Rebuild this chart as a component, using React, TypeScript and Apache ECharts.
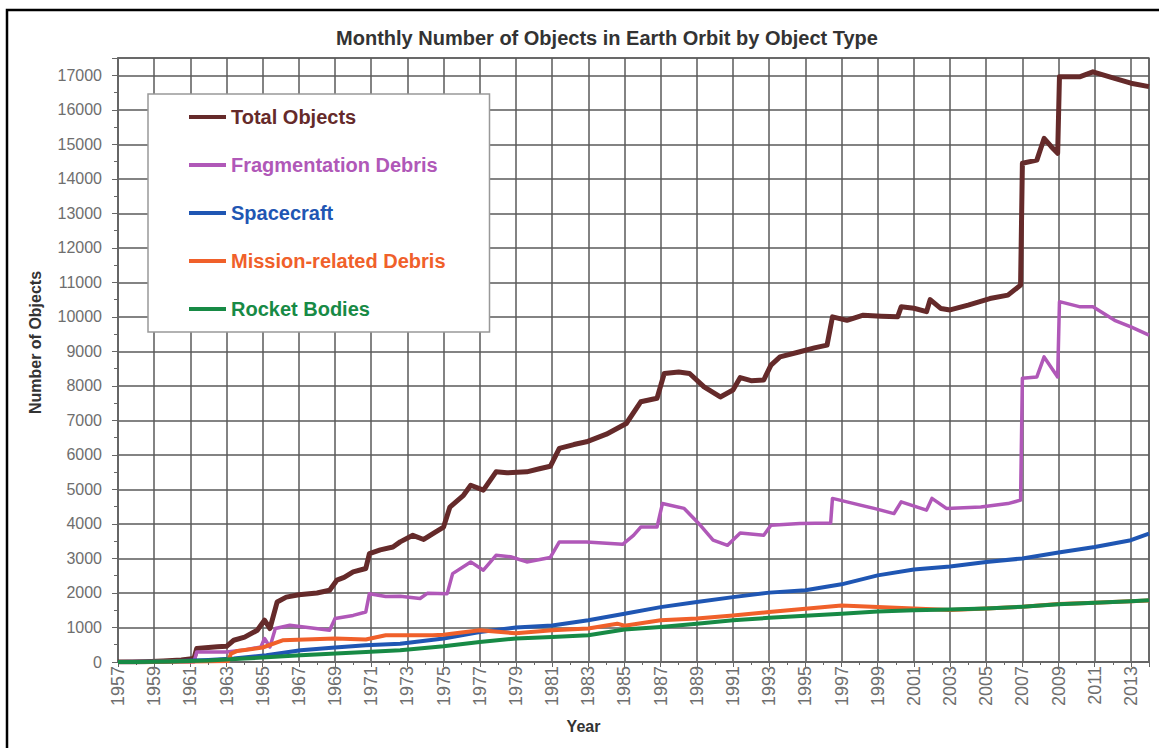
import React, { useEffect, useRef } from "react";
import * as echarts from "echarts";

const START_YEAR = 1957;
const END_YEAR = 2014;

const titleText = "Monthly Number of Objects in Earth Orbit by Object Type";
const xAxisName = "Year";
const yAxisName = "Number of Objects";

const seriesNames = [
  "Total Objects",
  "Fragmentation Debris",
  "Spacecraft",
  "Mission-related Debris",
  "Rocket Bodies",
];

const totalYears = [
  1957.0, 1957.8, 1958.5, 1959.5, 1960.5, 1961.2, 1961.35, 1962.0, 1962.5, 1963.0,
  1963.4, 1964.0, 1964.7, 1965.1, 1965.4, 1965.8, 1966.3, 1967.0, 1968.0, 1968.7,
  1969.1, 1969.5, 1970.0, 1970.7, 1970.9, 1971.5, 1972.2, 1972.6, 1973.3, 1973.9,
  1974.5, 1975.0, 1975.35, 1976.1, 1976.5, 1977.2, 1977.9, 1978.5, 1979.6, 1980.3,
  1980.9, 1981.4, 1982.2, 1982.9, 1984.0, 1985.1, 1985.9, 1986.8, 1987.2, 1988.0,
  1988.6, 1989.4, 1990.3, 1991.0, 1991.4, 1992.0, 1992.7, 1993.1, 1993.6, 1994.7,
  1995.5, 1996.2, 1996.5, 1997.3, 1998.2, 1999.2, 2000.1, 2000.3, 2001.0, 2001.7,
  2001.9, 2002.5, 2003.0, 2004.0, 2005.2, 2006.2, 2006.9, 2007.0, 2007.8, 2008.2,
  2008.6, 2008.95, 2009.05, 2010.2, 2010.9, 2012.1, 2013.0, 2014.0,
];
const totalValues = [
  0, 2, 10, 30, 60, 100, 390, 420, 440, 455,
  630, 720, 920, 1210, 970, 1740, 1880, 1950, 2000, 2080,
  2370, 2450, 2610, 2710, 3140, 3250, 3330, 3480, 3670, 3550,
  3750, 3910, 4490, 4830, 5120, 4980, 5510, 5480, 5510, 5600,
  5670, 6190, 6300, 6380, 6600, 6910, 7540, 7640, 8360, 8400,
  8360, 7970, 7680, 7880, 8240, 8150, 8170, 8600, 8840, 8990,
  9100, 9180, 10000, 9900, 10050, 10020, 10000, 10290, 10250, 10150,
  10500, 10240, 10200, 10340, 10530, 10630, 10920, 14450, 14540, 15170,
  14930, 14740, 16960, 16960, 17100, 16910, 16770, 16670,
];

const fragYears = [
  1957.0, 1961.2, 1961.35, 1963.0, 1964.0, 1964.9, 1965.1, 1965.4, 1965.7, 1966.5,
  1967.5, 1968.7, 1969.0, 1970.0, 1970.7, 1970.9, 1971.8, 1972.6, 1973.7, 1974.1,
  1975.2, 1975.5, 1976.5, 1977.2, 1977.9, 1978.7, 1979.6, 1980.9, 1981.4, 1982.9,
  1984.9, 1985.5, 1985.9, 1986.8, 1987.1, 1988.3, 1989.2, 1989.9, 1990.7, 1991.4,
  1992.7, 1993.1, 1994.7, 1996.4, 1996.5, 1997.3, 1998.8, 1999.9, 2000.3, 2001.7,
  2002.0, 2002.8, 2004.7, 2006.2, 2006.9, 2007.0, 2007.8, 2008.2, 2008.95, 2009.05,
  2010.2, 2010.9, 2012.1, 2013.0, 2014.0,
];
const fragValues = [
  0, 0, 290, 290, 350, 435, 680, 435, 970, 1065,
  1000, 920, 1260, 1350, 1450, 1980, 1900, 1905, 1840, 1990,
  1980, 2560, 2900, 2660, 3090, 3050, 2900, 3030, 3480, 3480,
  3410, 3670, 3910, 3910, 4590, 4450, 3960, 3530, 3380, 3740,
  3670, 3960, 4010, 4030, 4740, 4640, 4450, 4300, 4640, 4400,
  4740, 4450, 4490, 4590, 4690, 8220, 8260, 8840, 8260, 10440,
  10290, 10290, 9900, 9710, 9470,
];

const spacecraftYears = [
  1957, 1958, 1960, 1962, 1963.4, 1965.2, 1967.1, 1969, 1970.7, 1972.6,
  1975, 1977, 1979, 1981, 1983, 1985, 1987, 1989, 1991, 1993,
  1995, 1997, 1999, 2001, 2003, 2005, 2007, 2009, 2011, 2013, 2014,
];
const spacecraftValues = [
  0, 5, 20, 60, 100, 195, 340, 420, 485, 530,
  680, 870, 1000, 1060, 1210, 1400, 1590, 1740, 1880, 2010,
  2080, 2250, 2510, 2680, 2770, 2900, 3000, 3170, 3330, 3530, 3720,
];

const missionYears = [
  1957, 1959, 1961, 1963.1, 1963.25, 1963.6, 1965, 1966.1, 1969, 1970.7,
  1971.8, 1974.4, 1975, 1977, 1979, 1981, 1983, 1984.6, 1985, 1987,
  1989, 1991, 1993, 1995, 1997, 1999, 2001, 2003, 2005, 2007,
  2009, 2011, 2013, 2014,
];
const missionValues = [
  0, 5, 15, 30, 245, 320, 420, 630, 680, 650,
  775, 775, 790, 920, 830, 920, 970, 1110, 1050, 1210,
  1260, 1350, 1450, 1540, 1640, 1590, 1550, 1510, 1550, 1600,
  1680, 1720, 1760, 1780,
];

const rocketYears = [
  1957, 1958, 1960, 1962, 1964, 1967.1, 1970.7, 1972.6, 1975, 1977,
  1979, 1981, 1983, 1985, 1987, 1989, 1991, 1993, 1995, 1997,
  1999, 2001, 2003, 2005, 2007, 2009, 2011, 2013, 2014,
];
const rocketValues = [
  0, 3, 15, 40, 100, 195, 290, 340, 455, 580,
  680, 725, 775, 940, 1015, 1110, 1210, 1280, 1340, 1400,
  1460, 1500, 1520, 1550, 1600, 1670, 1720, 1760, 1790,
];

const seriesColors = ["#652a2a", "#b058b8", "#1f56b3", "#f0602a", "#178a45"];
const seriesWidths = [5, 3.5, 4, 4, 4];

const toPairs = (years: number[], values: number[]) =>
  years.map((y, i) => [y - START_YEAR, values[i]]);

const FONT = "Liberation Sans, Arial, sans-serif";

export default function App() {
  const ref = useRef<HTMLDivElement>(null);

  useEffect(() => {
    if (!ref.current) return;
    const chart = echarts.init(ref.current, null, { renderer: "svg" });
    const dataSets = [
      toPairs(totalYears, totalValues),
      toPairs(fragYears, fragValues),
      toPairs(spacecraftYears, spacecraftValues),
      toPairs(missionYears, missionValues),
      toPairs(rocketYears, rocketValues),
    ];
    chart.setOption({
      animation: false,
      backgroundColor: "#ffffff",
      graphic: [
        {
          type: "text",
          x: 607,
          y: 28,
          silent: true,
          style: {
            text: titleText,
            align: "center",
            verticalAlign: "top",
            fontFamily: FONT,
            fontSize: 20,
            fontWeight: "bold",
            fill: "#333333",
          },
          z: 100,
        },
        {
          type: "rect",
          shape: { x: 7, y: 10, width: 1200, height: 800 },
          style: { fill: "none", stroke: "#000000", lineWidth: 2.5 },
          silent: true,
          z: 100,
        },
      ],
      legend: {
        orient: "vertical",
        left: 148,
        top: 94,
        padding: [11, 44, 11, 41],
        itemGap: 24,
        itemWidth: 37,
        itemHeight: 4,
        icon: "rect",
        backgroundColor: "#ffffff",
        borderColor: "#999999",
        borderWidth: 1.5,
        selectedMode: false,
        textStyle: { fontFamily: FONT, fontSize: 20, fontWeight: "bold", lineHeight: 24 },
        data: seriesNames.map((n, i) => ({ name: n, textStyle: { color: seriesColors[i] } })),
      },
      grid: {
        left: 118,
        top: 58,
        right: 10,
        bottom: 86,
        show: true,
        borderColor: "#777777",
        borderWidth: 1.5,
        backgroundColor: "#ffffff",
      },
      xAxis: {
        type: "value",
        min: 0,
        max: END_YEAR - START_YEAR,
        interval: 2,
        name: xAxisName,
        nameLocation: "middle",
        nameGap: 56,
        nameTextStyle: {
          fontFamily: FONT,
          fontSize: 16,
          fontWeight: "bold",
          color: "#333333",
          padding: [0, 100, 0, 0],
        },
        axisLine: { show: true, onZero: false, lineStyle: { color: "#666666", width: 2 } },
        axisTick: { show: true, inside: false, length: 5, lineStyle: { color: "#666666", width: 1 } },
        minorTick: { show: true, splitNumber: 2, length: 3, lineStyle: { color: "#666666", width: 1 } },
        splitLine: { show: true, lineStyle: { color: "#5a5a5a", width: 1.5 } },
        axisLabel: {
          rotate: 90,
          margin: 4,
          showMaxLabel: false,
          fontFamily: FONT,
          fontSize: 18,
          color: "#6e6e6e",
          formatter: (v: number) => String(START_YEAR + v),
        },
      },
      yAxis: {
        type: "value",
        min: 0,
        max: 17500,
        interval: 1000,
        name: yAxisName,
        nameLocation: "middle",
        nameGap: 75,
        nameTextStyle: {
          fontFamily: FONT,
          fontSize: 16,
          fontWeight: "bold",
          color: "#333333",
          padding: [0, 0, 0, 35],
        },
        axisLine: { show: true, lineStyle: { color: "#666666", width: 2 } },
        axisTick: { show: true, inside: false, length: 6, lineStyle: { color: "#666666", width: 1 } },
        minorTick: { show: true, splitNumber: 2, length: 4, lineStyle: { color: "#666666", width: 1 } },
        splitLine: { show: true, lineStyle: { color: "#5a5a5a", width: 1.5 } },
        axisLabel: {
          margin: 16,
          showMaxLabel: false,
          fontFamily: FONT,
          fontSize: 16,
          color: "#6e6e6e",
          formatter: (v: number) => String(v),
        },
      },
      series: seriesNames.map((n, i) => ({
        name: n,
        type: "line",
        data: dataSets[i],
        showSymbol: false,
        symbol: "none",
        color: seriesColors[i],
        lineStyle: { color: seriesColors[i], width: seriesWidths[i], join: "round" },
        emphasis: { disabled: true },
        z: 2 + i,
      })),
    });
    return () => chart.dispose();
  }, []);

  return (
    <div
      ref={ref}
      style={{ position: "absolute", left: 0, top: 0, width: 1159, height: 748, background: "#ffffff" }}
    />
  );
}
